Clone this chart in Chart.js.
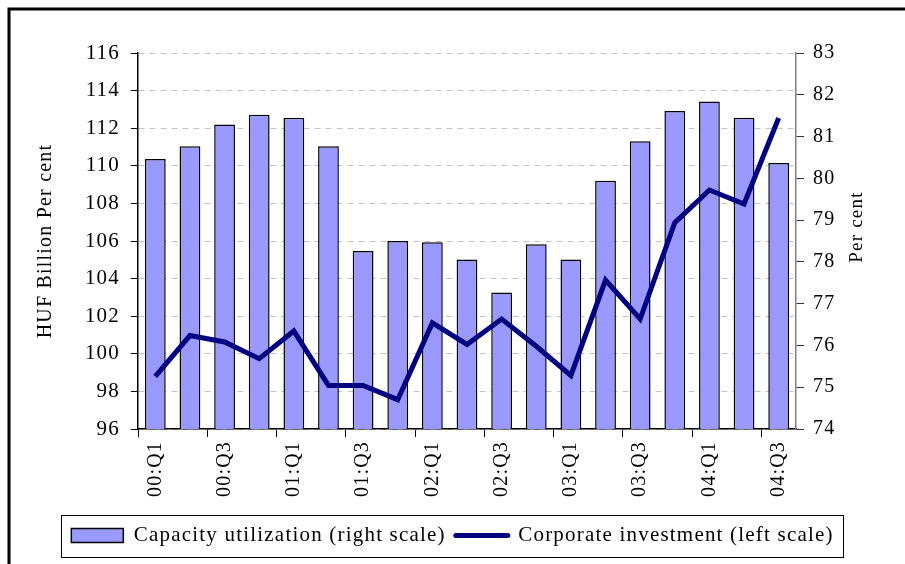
<!DOCTYPE html>
<html><head><meta charset="utf-8">
<script src="https://cdn.jsdelivr.net/npm/chart.js@4/dist/chart.umd.min.js"></script>
<style>html,body{margin:0;padding:0;background:#fff}</style>
</head><body>
<canvas id="c" width="905" height="564"></canvas>
<script>
const categories = ['00:Q1','00:Q2','00:Q3','00:Q4','01:Q1','01:Q2','01:Q3','01:Q4','02:Q1','02:Q2','02:Q3','02:Q4','03:Q1','03:Q2','03:Q3','03:Q4','04:Q1','04:Q2','04:Q3'];
const capacityUtilization = [80.46,80.77,81.29,81.52,81.45,80.77,78.26,78.50,78.47,78.06,77.27,78.42,78.06,79.94,80.89,81.61,81.84,81.45,80.37];
const corporateInvestment = [98.80,100.97,100.63,99.74,101.21,98.32,98.32,97.56,101.64,100.50,101.85,100.40,98.85,103.92,101.85,106.97,108.71,107.97,112.54];
const leftAxisRange = [96, 116, 2];
const rightAxisRange = [74, 83, 1];
const seriesNames = ['Capacity utilization (right scale)', 'Corporate investment (left scale)'];
const leftTitle = 'HUF Billion Per cent';
const rightTitle = 'Per cent';

const FONT = '"Liberation Serif", "Times New Roman", serif';

const spacingPlugin = {
  id: 'spacing',
  beforeInit(c){ c.ctx.letterSpacing = '1.2px'; },
  beforeUpdate(c){ c.ctx.letterSpacing = '1.2px'; },
  beforeLayout(c){ c.ctx.letterSpacing = '1.2px'; },
  beforeDraw(c){ c.ctx.letterSpacing = '1.2px'; }
};

const decorPlugin = {
  id: 'decor',
  afterDraw(c){
    const ctx = c.ctx;
    ctx.save();
    // outer frame
    ctx.strokeStyle = '#000';
    ctx.lineWidth = 3;
    ctx.strokeRect(9, 9, 1000, 1000);
    // legend frame
    const lg = c.legend;
    const hb = lg.legendHitBoxes;
    if (hb && hb.length) {
      const first = hb[0], last = hb[hb.length-1];
      const cy = first.top + first.height/2;
      const l = first.left - 10;
      const r = last.left + last.width + 10;
      ctx.lineWidth = 1;
      ctx.strokeStyle = '#000';
      ctx.strokeRect(Math.round(l)+0.5, Math.round(cy-21)+0.5, Math.round(r-l), 42);
    }
    // right axis title (reads bottom to top)
    ctx.translate(857, 227);
    ctx.rotate(-Math.PI/2);
    ctx.font = '19px ' + FONT;
    ctx.fillStyle = '#000';
    ctx.textAlign = 'center';
    ctx.textBaseline = 'middle';
    ctx.fillText(rightTitle, 0, 0);
    ctx.restore();
  }
};

new Chart(document.getElementById('c'), {
  data: {
    labels: categories,
    datasets: [
      {
        type: 'bar',
        label: seriesNames[0],
        data: capacityUtilization,
        yAxisID: 'y1',
        backgroundColor: '#9999ff',
        borderColor: '#000000',
        borderWidth: 1.5,
        borderSkipped: false,
        barPercentage: 0.6,
        categoryPercentage: 1.0,
        order: 1
      },
      {
        type: 'line',
        label: seriesNames[1],
        data: corporateInvestment,
        yAxisID: 'y',
        borderColor: '#000080',
        backgroundColor: '#000080',
        borderWidth: 5,
        pointRadius: 0,
        pointBorderWidth: 5,
        pointBorderColor: '#000080',
        tension: 0,
        borderJoinStyle: 'miter',
        order: 0
      }
    ]
  },
  options: {
    responsive: false,
    animation: false,
    devicePixelRatio: 1,
    layout: { padding: { left: 20, right: 20, top: 53, bottom: 8 } },
    plugins: {
      tooltip: { enabled: false },
      legend: {
        display: true,
        position: 'bottom',
        labels: {
          font: { family: FONT, size: 21 },
          color: '#000',
          usePointStyle: true,
          pointStyleWidth: 52,
          boxHeight: 14,
          padding: 10,
          sort: (a, b) => a.datasetIndex - b.datasetIndex,
          generateLabels(chart) {
            const items = Chart.defaults.plugins.legend.labels.generateLabels(chart);
            items.forEach(it => {
              if (it.datasetIndex === 0) {
                it.pointStyle = 'rect'; it.fillStyle = '#9999ff'; it.strokeStyle = '#000'; it.lineWidth = 1.5;
              } else {
                it.pointStyle = 'line'; it.fillStyle = '#000080'; it.strokeStyle = '#000080'; it.lineWidth = 5; it.lineCap = 'round';
              }
            });
            return items;
          }
        }
      }
    },
    scales: {
      x: {
        type: 'category',
        offset: true,
        afterFit(s){ s.height = 86; },
        grid: {
          offset: true,
          drawOnChartArea: false,
          drawTicks: true,
          tickLength: 8,
          lineWidth: 1,
          color: (ctx) => (ctx.index % 2 === 0 ? '#000' : 'rgba(0,0,0,0)'),
          tickColor: (ctx) => (ctx.index % 2 === 0 ? '#000' : 'rgba(0,0,0,0)')
        },
        border: { display: true, color: '#000', width: 1.5 },
        ticks: {
          autoSkip: false,
          maxRotation: 90,
          minRotation: 90,
          padding: 4,
          color: '#000',
          font: { family: FONT, size: 20 },
          callback: (v, i) => (i % 2 === 0 ? categories[i] : '')
        }
      },
      y: {
        position: 'left',
        min: leftAxisRange[0],
        max: leftAxisRange[1],
        afterFit(s){ s.width = 118; },
        ticks: {
          stepSize: leftAxisRange[2],
          color: '#000',
          padding: 11,
          font: { family: FONT, size: 21 }
        },
        grid: {
          color: '#c4c4c4',
          lineWidth: 1,
          tickColor: '#000',
          tickLength: 7,
          tickBorderDash: []
        },
        border: { display: true, color: '#000', width: 1.5, dash: [6, 5] },
        title: {
          display: true,
          text: leftTitle,
          color: '#000',
          font: { family: FONT, size: 20 },
          padding: { top: 14, bottom: 0 }
        }
      },
      y1: {
        position: 'right',
        min: rightAxisRange[0],
        max: rightAxisRange[1],
        afterFit(s){ s.width = 89; },
        ticks: {
          stepSize: rightAxisRange[2],
          color: '#000',
          padding: 9,
          font: { family: FONT, size: 20 }
        },
        grid: {
          drawOnChartArea: false,
          tickColor: '#333',
          tickLength: 8,
          tickBorderDash: []
        },
        border: { display: true, color: '#808080', width: 1.5 }
      }
    }
  },
  plugins: [spacingPlugin, decorPlugin]
});
</script>
</body></html>
